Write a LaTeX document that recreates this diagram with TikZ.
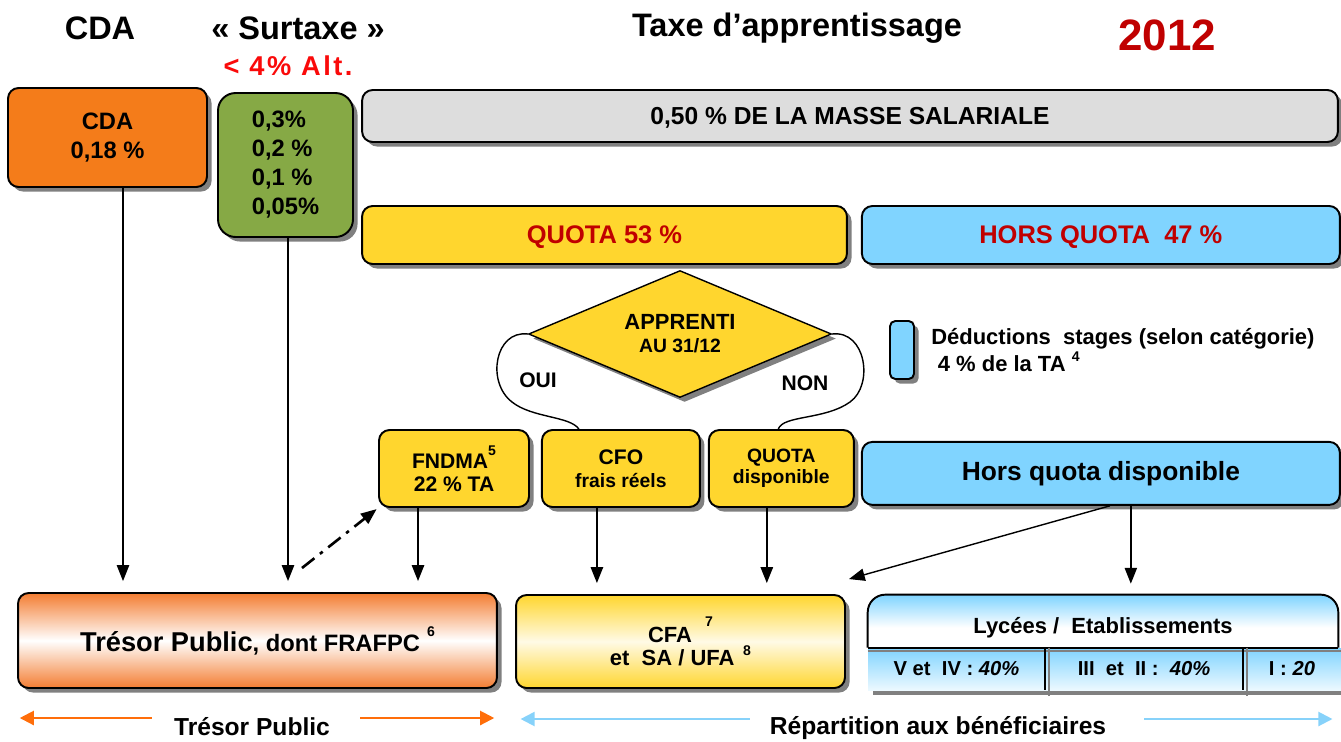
\documentclass[tikz,border=0pt]{standalone}
\usepackage{fontspec}
\setmainfont{Liberation Sans}
\usepackage{xcolor}
\usetikzlibrary{shapes.geometric, arrows.meta, positioning, shadows, calc}
\definecolor{CdaOrange}{RGB}{244,124,26}
\definecolor{SurtaxeGreen}{RGB}{134,169,69}
\definecolor{MasseGrey}{RGB}{221,221,221}
\definecolor{QuotaYellow}{RGB}{255,214,46}
\definecolor{HorsBlue}{RGB}{128,212,255}
\definecolor{DarkRed}{RGB}{192,0,0}
\definecolor{AltRed}{RGB}{250,10,10}
\definecolor{TresorOrange}{RGB}{243,125,50}
\definecolor{ArrowOrange}{RGB}{255,110,10}
\definecolor{ArrowBlue}{RGB}{135,210,250}
\newcommand{\fsz}[2]{\fontsize{#1}{#2}\selectfont\bfseries}
\newcommand{\expo}[2][1.2ex]{\raisebox{#1}{\fsz{8}{8}#2}}

\begin{document}
\begin{tikzpicture}[x=0.02cm, y=-0.02cm,
    dshadow/.style={drop shadow={shadow xshift=2.6pt, shadow yshift=-2.6pt, fill=black!50, opacity=1}},
    box/.style={rectangle, draw, line width=1.1pt, rounded corners=6pt, align=center, inner sep=0pt, dshadow},
    title/.style={font=\fsz{18.5}{20}},
    cell/.style={rectangle, minimum height=0.84cm, inner sep=0pt, top color=HorsBlue, bottom color=HorsBlue!15, font=\fsz{11.5}{12}, dshadow},
    arr/.style={-{Triangle[width=7pt,length=9pt]}, line width=0.8pt, shorten >=0.22cm},
    oarr/.style={-{Triangle[width=8pt,length=8pt]}, line width=1.2pt, draw=ArrowOrange, color=ArrowOrange},
    barr/.style={-{Triangle[width=8pt,length=8pt]}, line width=1.2pt, draw=ArrowBlue, color=ArrowBlue},
    lobe/.style={line width=0.8pt}
  ]
  \useasboundingbox (0,0) rectangle (1341,741);

  % titles
  \node[title] (tcda) at (100,28) {CDA};
  \node[title] (tsurtaxe) at (298,28) {« Surtaxe »};
  \node[title] (ttaxe) at (797,28) {Taxe d’apprentissage};
  \node[font=\fsz{25}{25}, text=DarkRed] (tyear) at (1167,35) {2012};
  \node[font=\fsz{15.5}{15.5}\addfontfeature{LetterSpace=9}, text=AltRed] (talt) at (288,66) {<\ 4\%\ Alt.};

  % top row
  \node[box, fill=CdaOrange, minimum width=3.98cm, minimum height=1.98cm, font=\fsz{13.5}{16}] (cda) at (107.5,137.5) {CDA\\0,18 \%};
  \node[box, fill=SurtaxeGreen, rounded corners=10pt, align=left, minimum width=2.7cm, minimum height=2.88cm, font=\fsz{13.5}{16.5}] (surtaxe) at (285.5,165) {0,3\%\\0,2 \%\\0,1 \%\\0,05\%};
  \node[box, fill=MasseGrey, minimum width=19.52cm, minimum height=1.04cm, text depth=0pt, font=\fsz{14}{14}] (masse) at (850,116) {0,50 \% DE LA MASSE SALARIALE};
  \node[box, fill=QuotaYellow, minimum width=9.7cm, minimum height=1.16cm, text depth=0pt, font=\fsz{14.5}{14.5}, text=DarkRed] (quota) at (604.5,235) {QUOTA 53 \%};
  \node[box, fill=HorsBlue, minimum width=9.56cm, minimum height=1.16cm, text depth=0pt, font=\fsz{14.5}{14.5}, text=DarkRed, right=0.26cm of quota] (horsquota) {HORS QUOTA\ \ 47 \%};

  % decision
  \node[diamond, draw, line width=0.8pt, fill=QuotaYellow, aspect=2.39, minimum width=6.06cm, minimum height=2.54cm, inner sep=0pt, align=center, font=\fsz{12.5}{13}, dshadow] (apprenti) at (680,334) {APPRENTI\\{\fsz{11}{13}AU 31/12}};
  \node[font=\fsz{12}{12}] (oui) at (538,380) {OUI};
  \node[font=\fsz{12}{12}] (non) at (805,383) {NON};

  % deductions stages
  \node[box, fill=HorsBlue, rounded corners=3pt, minimum width=0.48cm, minimum height=1.16cm] (deducbar) at (902,350) {};
  \node[right=0.32cm of deducbar, align=left, inner sep=0pt, font=\fsz{12.5}{15.4}] (deduc) {Déductions\ \ stages (selon catégorie)\\\hspace{0.3em}4 \% de la TA \expo[0.9ex]{4}};

  % middle row
  \node[box, fill=QuotaYellow, minimum width=3cm, minimum height=1.54cm, font=\fsz{12}{13}] (fndma) at (454,468.5) {FNDMA\expo{5}\\22 \% TA};
  \node[box, fill=QuotaYellow, minimum width=3.16cm, minimum height=1.54cm, font=\fsz{12}{13}, right=0.22cm of fndma] (cfo) {CFO\\{\fsz{11}{13}frais réels}};
  \node[box, fill=QuotaYellow, minimum width=2.9cm, minimum height=1.54cm, font=\fsz{11}{12}, right=0.14cm of cfo] (qdispo) {QUOTA\\disponible};
  \node[box, fill=HorsBlue, minimum width=9.56cm, minimum height=1.26cm, font=\fsz{15}{15}, below=3.52cm of horsquota] (horsdispo) {Hors quota disponible};

  \draw[lobe] (apprenti.west) .. controls (495,330) and (486,382) .. (512,402) .. controls (532,418) and (570,416) .. ($(cfo.north)+(-42,0)$);
  \draw[lobe] (apprenti.east) .. controls (866,330) and (874,385) .. (850,402) .. controls (825,420) and (783,415) .. ($(qdispo.north)+(-3,0)$);

  % bottom row
  \node[box, minimum width=9.58cm, minimum height=1.9cm, top color=TresorOrange, bottom color=TresorOrange, middle color=white] (tresor) at (257.5,640.5) {{\fsz{15.5}{16}Trésor Public}{\fsz{13.5}{16}, dont FRAFPC}\hspace{0.4em}\expo[1.6ex]{6}};
  \node[box, minimum width=6.58cm, minimum height=1.86cm, top color=QuotaYellow, bottom color=QuotaYellow, middle color=QuotaYellow!12, font=\fsz{12.5}{13}] (cfa) at (680.5,641.5) {CFA\hspace{0.6em}\expo[1.4ex]{7}\\et\ \ SA / UFA\hspace{0.4em}\expo[0.9ex]{8}};
  \node[rectangle, rounded corners=10pt, minimum width=9.4cm, minimum height=1.3cm, top color=HorsBlue, bottom color=white, middle color=white, font=\fsz{12.5}{13}] (lycees) at (1103,627.5) {\raisebox{0.1cm}{Lycées /\ \ Etablissements}};
  \node[cell, minimum width=3.54cm] (cat1) at (956.5,669) {V et\ \ IV :\ \textit{40\%}};
  \node[cell, minimum width=3.96cm] (cat2) at (1144,669) {III\ \ et\ \ II\ :\ \ \textit{40\%}};
  \node[cell, minimum width=1.96cm] (cat3) at (1292,669) {I :\ \textit{20}\hspace{0.5cm}};
  \draw[line width=1.1pt, rounded corners=10pt] (lycees.west |- cat1.north) -- (lycees.north west) -- (lycees.north east) -- (lycees.east |- cat1.north);
  \draw[line width=1.1pt] (cat1.north west) -- (lycees.east |- cat1.north);
  \draw[gray, line width=0.8pt] ([yshift=-2pt]cat1.north west) -- ([yshift=-2pt]cat3.north east);
  \draw[line width=1pt] (cat1.north east) -- (cat1.south east);
  \draw[line width=1pt] (cat2.north east) -- (cat2.south east);
  \draw[gray, line width=0.8pt] ([xshift=2pt]cat1.north east) -- ([xshift=2pt,yshift=-3pt]cat1.south east);
  \draw[gray, line width=0.8pt] ([xshift=2pt]cat2.north east) -- ([xshift=2pt,yshift=-3pt]cat2.south east);

  % flows
  \draw[arr] ([xshift=0.31cm]cda.south) -- ([xshift=0.31cm]cda.south |- tresor.north);
  \draw[arr] ([xshift=0.05cm]surtaxe.south) -- ([xshift=0.05cm]surtaxe.south |- tresor.north);
  \draw[arr] ([xshift=-0.72cm]fndma.south) -- ([xshift=-0.72cm]fndma.south |- tresor.north);
  \draw[arr] ([xshift=-0.48cm]cfo.south) -- ([xshift=-0.48cm]cfo.south |- cfa.north);
  \draw[arr] ([xshift=-0.29cm]qdispo.south) -- ([xshift=-0.29cm]qdispo.south |- cfa.north);
  \draw[arr, shorten >=0pt] ([xshift=0.18cm]horsdispo.south) -- ($(cfa.north east)+(3,-15)$);
  \draw[arr] ([xshift=0.6cm]horsdispo.south) -- ([xshift=0.6cm]horsdispo.south |- lycees.north);
  \coordinate (ddstart) at (302,568);
  \draw[arr, shorten >=1pt, line width=1.5pt, dash pattern=on 9pt off 4pt on 2pt off 4pt] (ddstart) -- (fndma.south west); % FNDMA vers Tresor

  % bottom labels
  \node[font=\fsz{14}{14}, inner sep=0pt] (tpub) at (252,726.5) {Trésor Public};
  \draw[oarr] ([shift={(-0.44cm,0.17cm)}]tpub.west) -- ++(-2.64cm,0);
  \draw[oarr] ([shift={(0.6cm,0.17cm)}]tpub.east) -- ++(2.68cm,0);
  \node[font=\fsz{14}{14}, inner sep=0pt] (repart) at (938,728.5) {Répartition aux bénéficiaires};
  \draw[barr] ([shift={(-0.4cm,0.19cm)}]repart.west) -- ++(-4.58cm,0);
  \draw[barr] ([shift={(0.76cm,0.19cm)}]repart.east) -- ++(3.76cm,0);
\end{tikzpicture}
\end{document}
